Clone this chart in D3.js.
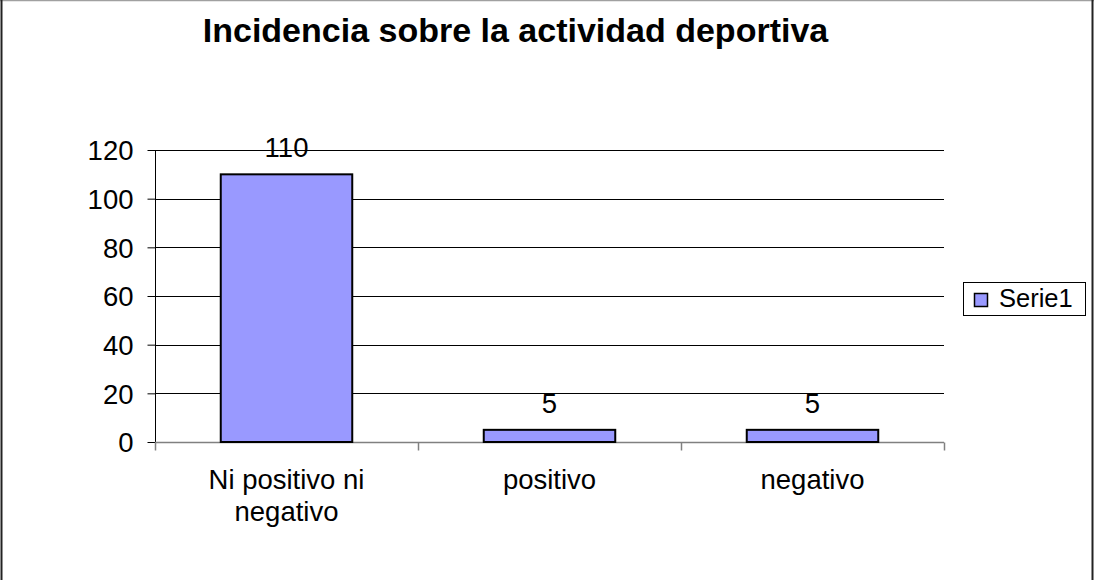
<!DOCTYPE html>
<html>
<head>
<meta charset="utf-8">
<script src="https://cdn.jsdelivr.net/npm/d3@7/dist/d3.min.js"></script>
<style>
  html, body { margin: 0; padding: 0; background: #fff; }
  svg { display: block; }
  text { font-family: "Liberation Sans", Arial, sans-serif; fill: #000; }
</style>
</head>
<body>
<svg id="chart" width="1094" height="580"></svg>
<script>
// Chart data
const title = "Incidencia sobre la actividad deportiva";
const categories = [["Ni positivo ni", "negativo"], ["positivo"], ["negativo"]];
const values = [110, 5, 5];
const yTicks = [0, 20, 40, 60, 80, 100, 120];
const seriesName = "Serie1";

const svg = d3.select("#chart");
const W = 1094, H = 580;
const plot = { left: 155, right: 944, top: 150, bottom: 442 };
const labelSize = 27.5;

// Outer chart frame
svg.append("line").attr("x1", 0).attr("x2", W).attr("y1", 0.5).attr("y2", 0.5)
  .attr("stroke", "#a0a0a0").attr("stroke-width", 1.5);
svg.append("line").attr("x1", 1.5).attr("x2", 1.5).attr("y1", 0).attr("y2", H)
  .attr("stroke", "#222").attr("stroke-width", 2);
svg.append("line").attr("x1", W - 1.5).attr("x2", W - 1.5).attr("y1", 0).attr("y2", H)
  .attr("stroke", "#222").attr("stroke-width", 2);

const x = d3.scaleBand().domain(d3.range(categories.length))
  .range([plot.left, plot.right]).paddingInner(0.5).paddingOuter(0.25);
const xCat = d3.scaleBand().domain(d3.range(categories.length))
  .range([plot.left, plot.right]);
const y = d3.scaleLinear().domain([0, 120]).range([plot.bottom, plot.top]);

// Horizontal gridlines
svg.append("g").selectAll("line").data(yTicks.filter(t => t > 0)).join("line")
  .attr("x1", plot.left).attr("x2", plot.right)
  .attr("y1", d => Math.round(y(d)) + 0.5).attr("y2", d => Math.round(y(d)) + 0.5)
  .attr("stroke", "#000").attr("stroke-width", 1);

// Y axis
const yAxis = svg.append("g").attr("transform", `translate(${plot.left + 0.5},0)`)
  .call(d3.axisLeft(y).tickValues(yTicks).tickSize(8).tickPadding(14));
yAxis.select(".domain").attr("stroke", "#000").attr("d", `M0,${plot.top}V${plot.bottom}`);
yAxis.selectAll(".tick line").attr("stroke", "#000");
yAxis.selectAll(".tick text").attr("font-size", labelSize)
  .attr("font-family", "Liberation Sans, Arial, sans-serif")
  .attr("fill", "#000").attr("dy", "0.36em");

// X axis
const xAxisG = svg.append("g").attr("transform", `translate(0,${plot.bottom + 0.5})`);
xAxisG.append("line").attr("x1", plot.left).attr("x2", plot.right)
  .attr("stroke", "#808080").attr("stroke-width", 1.5);
const boundaries = d3.range(categories.length + 1).map(i =>
  i < categories.length ? xCat(i) : xCat(i - 1) + xCat.bandwidth());
xAxisG.selectAll("line.tk").data(boundaries).join("line").attr("class", "tk")
  .attr("x1", d => Math.round(d) + 0.5).attr("x2", d => Math.round(d) + 0.5)
  .attr("y1", 0).attr("y2", 8).attr("stroke", "#808080").attr("stroke-width", 1.5);

// Category labels
const catLabels = svg.append("g").selectAll("text").data(categories).join("text")
  .attr("text-anchor", "middle").attr("font-size", labelSize)
  .attr("x", (d, i) => xCat(i) + xCat.bandwidth() / 2).attr("y", 489);
catLabels.selectAll("tspan").data(d => d).join("tspan")
  .attr("x", function () { return d3.select(this.parentNode).attr("x"); })
  .attr("dy", (d, i) => i === 0 ? 0 : 32).text(d => d);

// Bars
svg.append("g").selectAll("rect").data(values).join("rect")
  .attr("x", (d, i) => x(i)).attr("width", x.bandwidth())
  .attr("y", d => y(d)).attr("height", d => y(0) - y(d))
  .attr("fill", "#9999ff").attr("stroke", "#000").attr("stroke-width", 2);

// Value labels
svg.append("g").selectAll("text").data(values).join("text")
  .attr("text-anchor", "middle").attr("font-size", labelSize)
  .attr("x", (d, i) => x(i) + x.bandwidth() / 2)
  .attr("y", d => y(d) - 17).text(d => d);

// Title
svg.append("text").attr("x", 515.5).attr("y", 42).attr("text-anchor", "middle")
  .attr("font-size", 34).attr("font-weight", "bold").text(title);

// Legend
const lg = svg.append("g").attr("transform", "translate(963,282)");
lg.append("rect").attr("x", 0.5).attr("y", 0.5).attr("width", 122).attr("height", 33)
  .attr("fill", "#fff").attr("stroke", "#000").attr("stroke-width", 1);
lg.append("rect").attr("x", 11.5).attr("y", 11.5).attr("width", 13).attr("height", 13)
  .attr("fill", "#9999ff").attr("stroke", "#000").attr("stroke-width", 1.5);
lg.append("text").attr("x", 36).attr("y", 25).attr("font-size", 25.5).text(seriesName);
</script>
</body>
</html>
